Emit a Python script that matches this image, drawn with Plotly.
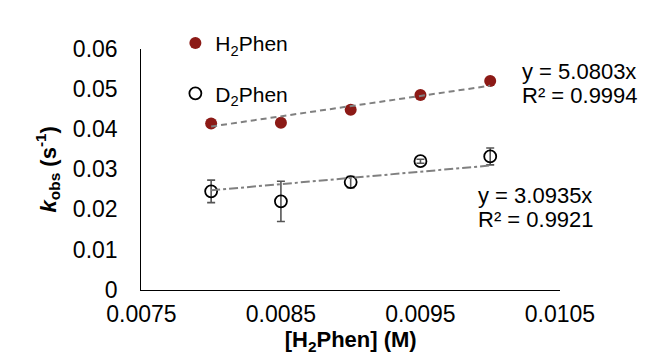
import plotly.graph_objects as go

# Data
conc = [0.008, 0.0085, 0.009, 0.0095, 0.010]
k_h2 = [0.0414, 0.0416, 0.0448, 0.0485, 0.0520]
k_d2 = [0.0245, 0.0220, 0.0268, 0.0320, 0.0332]
err_d2 = [0.0028, 0.0050, 0.0014, 0.0005, 0.0021]
slope_h2 = 5.0803
slope_d2 = 3.0935
fit_x = [conc[0], conc[-1]]
xticks = [0.0075, 0.0085, 0.0095, 0.0105]
yticks = [0, 0.01, 0.02, 0.03, 0.04, 0.05, 0.06]

FONT = "Liberation Sans, Arial, Helvetica, sans-serif"
W, H = 663, 354
PL, PR, PT, PB = 110, 578, 30, 290  # plot area in pixels


def px(x):
    return x / W


def py(y):
    return 1 - y / H


fig = go.Figure()

fig.add_trace(go.Scatter(
    x=conc, y=k_h2, mode="markers", name="H<sub>2</sub>Phen",
    marker=dict(symbol="circle", size=12, color="#8c1a16"),
    legendgroup="a",
))
fig.add_trace(go.Scatter(
    x=conc, y=k_d2, mode="markers", name="D<sub>2</sub>Phen",
    marker=dict(symbol="circle-open", size=12, color="black", line=dict(width=1.8, color="black")),
    error_y=dict(type="data", array=err_d2, visible=True, color="#555555", thickness=1.6, width=4),
    legendgroup="b",
))
fig.add_trace(go.Scatter(
    x=fit_x, y=[slope_h2 * v for v in fit_x], mode="lines", showlegend=False,
    line=dict(color="#808080", width=2, dash="6px,4px"),
))
fig.add_trace(go.Scatter(
    x=fit_x, y=[slope_d2 * v for v in fit_x], mode="lines", showlegend=False,
    line=dict(color="#808080", width=2, dash="dashdot"),
))

ann_font = dict(size=22, color="black", family=FONT)
for text, x, y in [("y = 5.0803x", 533, 54), ("R² = 0.9994", 533, 80),
                   ("y = 3.0935x", 484, 188), ("R² = 0.9921", 484, 214)]:
    fig.add_annotation(xref="paper", yref="paper", x=px(x), y=py(y), text=text,
                       showarrow=False, xanchor="left", yanchor="middle", font=ann_font)

fig.update_layout(
    width=W, height=H,
    margin=dict(l=0, r=0, t=0, b=0),
    paper_bgcolor="white", plot_bgcolor="white",
    font=dict(family=FONT, size=23, color="black"),
    showlegend=True,
    legend=dict(x=px(148), y=py(2), xanchor="left", yanchor="top",
                bgcolor="rgba(0,0,0,0)", font=dict(size=21, family=FONT),
                tracegroupgap=20, itemsizing="trace"),
    xaxis=dict(domain=[px(PL), px(PR)], range=[0.0075, 0.0105], tickvals=xticks,
               ticktext=[str(v) for v in xticks],
               showgrid=False, zeroline=False, showline=True, linecolor="black", linewidth=1.3,
               ticks="", ticklabelstandoff=4,
               title=dict(text="<b>[H<sub>2</sub>Phen] (M)</b>", font=dict(size=22, family=FONT), standoff=2)),
    yaxis=dict(domain=[py(PB), py(PT)], range=[0, 0.06], tickvals=yticks,
               ticktext=[("%g" % v) for v in yticks],
               showgrid=False, zeroline=False, showline=True, linecolor="black", linewidth=1.3,
               ticks="", ticklabelstandoff=18,
               title=dict(text="<b><i>k</i><sub>obs</sub> (s<sup>-1</sup>)</b>", font=dict(size=22, family=FONT), standoff=10)),
)

fig.write_html("out.html")
